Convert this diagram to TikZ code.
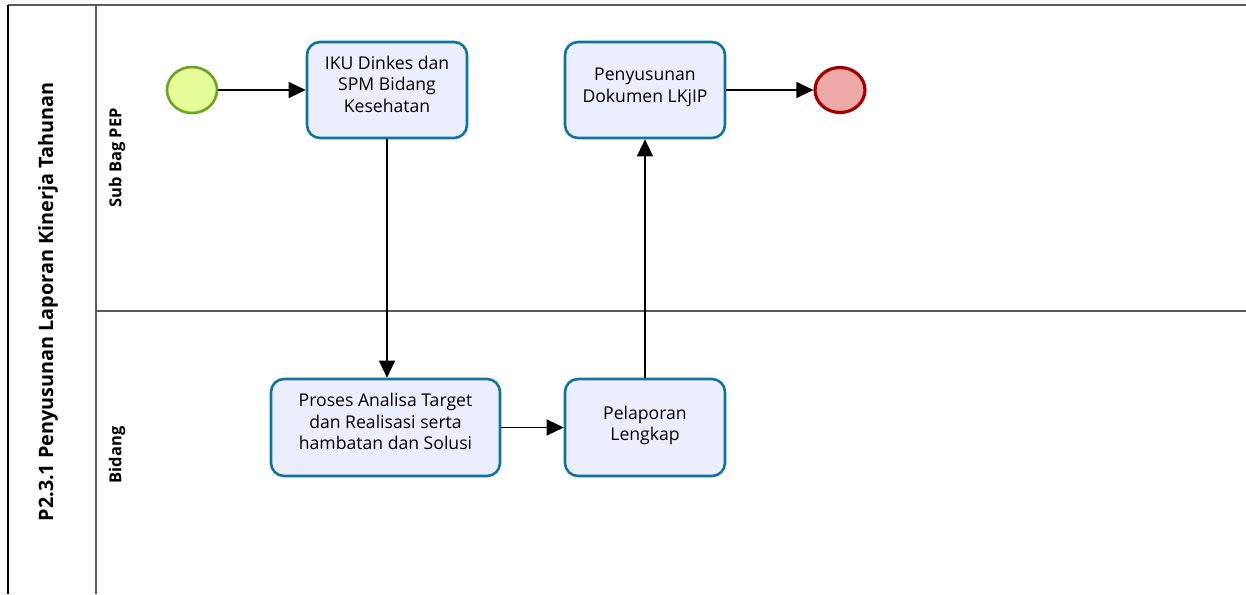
\documentclass[tikz,border=0pt]{standalone}
\usepackage{fontspec}
\setmainfont{Open Sans}
\usetikzlibrary{arrows.meta,shapes.geometric}
\definecolor{taskfill}{HTML}{EBEEFD}
\definecolor{taskline}{HTML}{10739E}
\definecolor{startfill}{HTML}{E6FF99}
\definecolor{startline}{HTML}{6BA51E}
\definecolor{endfill}{HTML}{EDA8A8}
\definecolor{endline}{HTML}{A20000}
\definecolor{lanegray}{HTML}{5A5A5A}
\tikzset{
  task/.style={draw=taskline, fill=taskfill, line width=2.6pt, rounded corners=13pt,
    inner sep=0pt},
  tasktext/.style={align=center, font=\fontsize{17.6}{21.6}\selectfont, inner sep=0pt},
  startev/.style={ellipse, draw=startline, fill=startfill, line width=2.6pt,
    minimum width=50pt, minimum height=46pt, inner sep=0pt},
  endev/.style={ellipse, draw=endline, fill=endfill, line width=3.2pt,
    minimum width=50pt, minimum height=45pt, inner sep=0pt},
  flow/.style={draw=black, line width=1.3pt, -{Triangle[length=17pt,width=16pt]}},
  lanetitle/.style={rotate=90, font=\bfseries\fontsize{16.5}{19}\selectfont},
}
\begin{document}
\begin{tikzpicture}[x=1pt,y=-1pt]
\useasboundingbox (0,0) rectangle (1246,594);
% pool and lanes
\draw[lanegray, line width=2.4pt] (8,5) -- (1246,5);
\draw[black, line width=1.6pt] (8,5) -- (8,594);
\draw[lanegray, line width=2pt] (96,5) -- (96,594);
\draw[lanegray, line width=2.6pt] (96,311) -- (1246,311);
\node[rotate=90, font=\bfseries\fontsize{19.8}{22}\selectfont] (pool) at (48,302) {P2.3.1 Penyusunan Laporan Kinerja Tahunan};
\node[lanetitle] (lane1) at (117,158) {Sub Bag PEP};
\node[lanetitle] (lane2) at (117,455) {Bidang};
% tasks
\node[task, minimum width=160pt, minimum height=96pt] (t1) at (387,90) {};
\node[task, minimum width=160pt, minimum height=96pt] (t2) at (645,90) {};
\node[task, minimum width=229pt, minimum height=97pt] (t3) at (385.5,427.5) {};
\node[task, minimum width=160pt, minimum height=97pt] (t4) at (645,427.5) {};
\node[tasktext] (t1text) at ([yshift=6pt]t1.center) {IKU Dinkes dan\\SPM Bidang\\Kesehatan};
\node[tasktext] (t2text) at ([yshift=2.5pt]t2.center) {Penyusunan\\Dokumen LKjIP};
\node[tasktext] (t3text) at ([yshift=6pt]t3.center) {Proses Analisa Target\\dan Realisasi serta\\hambatan dan Solusi};
\node[tasktext] (t4text) at ([yshift=2pt]t4.center) {Pelaporan\\Lengkap};
% events
\node[startev] (start) at (192,90) {};
\node[endev] (end) at (840,90) {};
% sequence flows
\draw[flow] (start) -- (t1);
\draw[flow] (t1.south) -- (t1.south |- t3.north);
\draw[flow] (t3) -- (t4);
\draw[flow] (t4) -- (t2);
\draw[flow] (t2) -- (end);
\end{tikzpicture}
\end{document}
